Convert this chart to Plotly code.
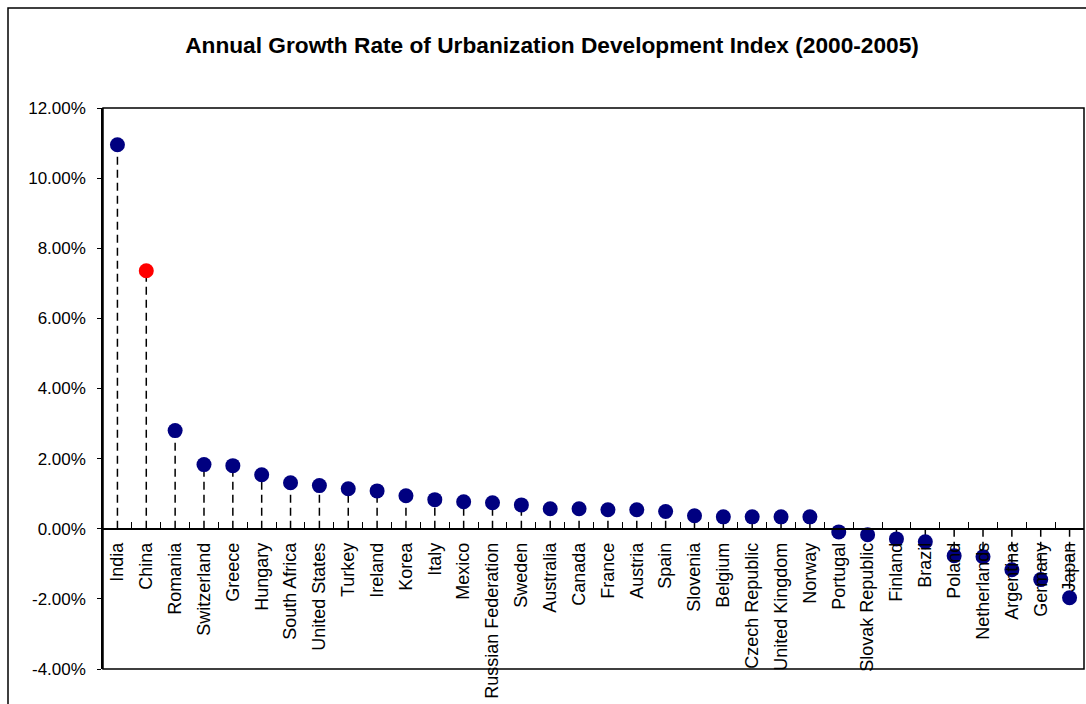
import plotly.graph_objects as go

countries = ["India", "China", "Romania", "Switzerland", "Greece", "Hungary", "South Africa",
             "United States", "Turkey", "Ireland", "Korea", "Italy", "Mexico",
             "Russian Federation", "Sweden", "Australia", "Canada", "France", "Austria",
             "Spain", "Slovenia", "Belgium", "Czech Republic", "United Kingdom", "Norway",
             "Portugal", "Slovak Republic", "Finland", "Brazil", "Poland", "Netherlands",
             "Argentina", "Germany", "Japan"]
growth = [0.1095, 0.0736, 0.0280, 0.0183, 0.0180, 0.0154, 0.0131,
          0.0123, 0.0114, 0.0108, 0.0094, 0.0083, 0.0077,
          0.0074, 0.0068, 0.0057, 0.0057, 0.0054, 0.0054,
          0.0049, 0.0037, 0.0034, 0.0034, 0.0034, 0.0034,
          -0.0009, -0.0017, -0.0029, -0.0037, -0.0077, -0.0080,
          -0.0117, -0.0145, -0.0197]
highlight = "China"
ytick_vals = [-0.04, -0.02, 0.0, 0.02, 0.04, 0.06, 0.08, 0.10, 0.12]
ytick_text = ["-4.00%", "-2.00%", "0.00%", "2.00%", "4.00%", "6.00%", "8.00%", "10.00%", "12.00%"]
title = "Annual Growth Rate of Urbanization Development Index (2000-2005)"

FONT = "Liberation Sans, Arial, sans-serif"

W, H = 1086, 704
L, T, PW, PH = 103, 108, 981, 561

lx, ly = [], []
for c, v in zip(countries, growth):
    lx += [c, c, None]
    ly += [0, v, None]

colors = ["#FF0000" if c == highlight else "#000080" for c in countries]

fig = go.Figure()
fig.add_trace(go.Scatter(x=lx, y=ly, mode="lines",
                         line=dict(color="black", width=1.5, dash="8px,5px"),
                         hoverinfo="skip", showlegend=False))
fig.add_trace(go.Scatter(x=countries, y=growth, mode="markers",
                         marker=dict(color=colors, size=15, line=dict(width=0)),
                         showlegend=False))

ymin, ymax = -0.04, 0.12
zero_pos = (0 - ymin) / (ymax - ymin)

fig.update_layout(
    width=W, height=H,
    margin=dict(l=L, r=W - L - PW, t=T, b=H - T - PH),
    paper_bgcolor="white", plot_bgcolor="white",
    font=dict(family=FONT, size=18, color="black"),
    title=dict(text="<b>" + title + "</b>", x=552 / W, xanchor="center",
               y=1 - 45 / H, yanchor="middle", yref="container",
               font=dict(family=FONT, size=22.7, color="black")),
    xaxis=dict(type="category", categoryorder="array", categoryarray=countries,
               anchor="free", position=zero_pos,
               showline=True, linecolor="black", linewidth=1.5,
               ticks="inside", tickson="boundaries", ticklen=6, tickcolor="black",
               tickangle=-90, showgrid=False, zeroline=False, automargin=False,
               ticklabelstandoff=6,
               tickfont=dict(family=FONT, size=18, color="black"),
               range=[-0.5, len(countries) - 0.5]),
    yaxis=dict(range=[ymin, ymax], tickvals=ytick_vals, ticktext=ytick_text,
               showline=True, linecolor="black", linewidth=1.5,
               ticks="outside", ticklen=4, tickcolor="black",
               ticklabelstandoff=8,
               showgrid=False, zeroline=False, automargin=False,
               tickfont=dict(family=FONT, size=17, color="black")),
    shapes=[
        dict(type="rect", xref="paper", yref="paper", x0=0, x1=1, y0=0, y1=1,
             line=dict(color="black", width=1.5), layer="below"),
        dict(type="rect", xref="paper", yref="paper",
             x0=-(L - 8) / PW, x1=1.05, y0=-0.2, y1=1 + (T - 8) / PH,
             line=dict(color="black", width=1.5), layer="below"),
    ],
)

fig.write_html("out.html", config={"displayModeBar": False},
               post_script="document.body.style.margin='0';document.body.style.overflow='hidden';")
